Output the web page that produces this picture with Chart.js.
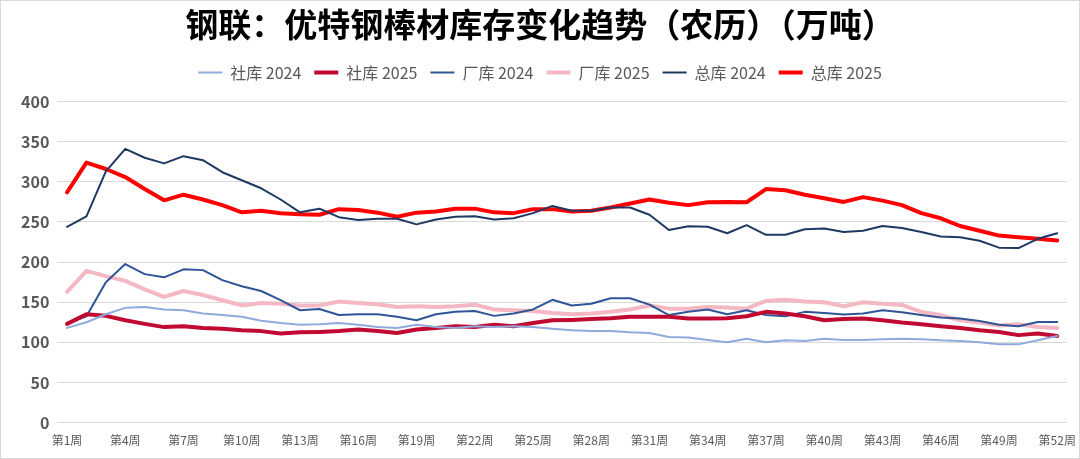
<!DOCTYPE html>
<html>
<head>
<meta charset="utf-8">
<script src="https://cdn.jsdelivr.net/npm/chart.js@4.4.1/dist/chart.umd.min.js"></script>
<style>
  html, body { margin: 0; padding: 0; background: #fff; }
  #wrap { width: 1078px; height: 457px; border: 1px solid #d9d9d9; position: relative; }
</style>
</head>
<body>
<div id="wrap"><canvas id="myChart"></canvas></div>
<script>
// weeks 第1周 .. 第52周
let weeks = [];
for (let i = 1; i <= 52; i++) weeks.push('第' + i + '周');

let sheku2024 = [118,125,135,143,144,141,140,136,134,132,127,124,122,122.5,124,122,119,118,122,119,118,120,119,120,119,117,115,114,114,112.5,111.6,106.6,106,103,100,104.6,100,102.5,101.6,104.6,103,103,104,104.6,104,102.5,101.6,100,97.5,97.5,102.5,108];
let sheku2025 = [123,135,133,127.5,123,119,120,118,117,115,114,111,112.5,113,114,116,114,111.6,116,118,120,119,122,120,124,127.5,128,129,130,132,132,132,129.6,129.6,130,132.5,138,136,132.5,127.5,129,129.6,127.5,124.6,122.5,120,118,115,113,109,111,108];
let changku2024 = [123,132.5,175,197.5,185,181,191,190,177.5,170,164,152.5,140,141.6,134,135,135,132,127.5,135,138,139,133,136,141,153,146,148,155,155,147,134,138,141,135,140,134,132.5,138,136.6,134.6,136,140,137.5,134,131,129.6,126.6,122,120,125.4,125.4];
let changku2025 = [163,189,182.5,176.6,166,156.6,164,159,152.5,146,149,148,146,146,151,149,147.5,144,145,144,145,147,141,140,139,136.6,135,136,138,141,146,142,142,144,143.4,142,151.6,153,151,150,145,150,148,146.6,138,134,127.5,124.6,121,122.5,119,118];
let zongku2024 = [244,257,313,341,330,323,332,327,312,302,292,278,262,266.6,256,252.5,254,254,247,253,256.6,257,253,254.6,261,270,264,264,268,268,259,240,244.6,244,236,246,234,234,241,242,237.5,239,245,242.5,237.5,232,231,226.6,218,217.5,229,236];
let zongku2025 = [287,324,316,306,291,277,284,278,271,262,264,261,259.6,259,266,265,261.6,256.6,261.6,263,266.6,266.6,262,261,266,266,263,264,268,273,278,274,271,274.6,275,274.6,291,289.6,284,279.6,275,281,276.6,271,261,254.6,245,239,233,231,229,227];

let yTicks = [0,50,100,150,200,250,300,350,400];

// extra room under the legend
let legendGap = {
    id: 'legendGap',
    beforeInit(chart) {
        let fit = chart.legend.fit;
        chart.legend.fit = function () {
            fit.bind(chart.legend)();
            this.height += 11;
        };
    }
};

let ctx = document.getElementById('myChart').getContext('2d');

let chart = new Chart(ctx, {
    type: 'line',
    data: {
        labels: weeks,
        datasets: [
            { label: '社库 2024', data: sheku2024, borderColor: '#8FAADC', borderWidth: 2 },
            { label: '社库 2025', data: sheku2025, borderColor: '#C00A32', borderWidth: 4 },
            { label: '厂库 2024', data: changku2024, borderColor: '#2F5597', borderWidth: 2 },
            { label: '厂库 2025', data: changku2025, borderColor: '#F4B8C4', borderWidth: 4 },
            { label: '总库 2024', data: zongku2024, borderColor: '#1F3864', borderWidth: 2 },
            { label: '总库 2025', data: zongku2025, borderColor: '#FF0000', borderWidth: 4 }
        ]
    },
    options: {
        responsive: true,
        maintainAspectRatio: false,
        animation: false,
        elements: {
            point: { radius: 0 },
            line: { tension: 0, borderCapStyle: 'round', borderJoinStyle: 'round' }
        },
        layout: { padding: { left: 12, right: 12, top: 4, bottom: 7 } },
        plugins: {
            title: {
                display: true,
                text: '钢联：优特钢棒材库存变化趋势（农历）（万吨）',
                color: '#000',
                font: { family: '"Noto Sans CJK SC"', size: 33, weight: 'bold' },
                padding: { top: 0, bottom: 7 }
            },
            legend: {
                display: true,
                labels: {
                    usePointStyle: true,
                    pointStyle: 'line',
                    pointStyleWidth: 24,
                    color: '#595959',
                    font: { family: '"Noto Sans CJK SC"', size: 16 },
                    padding: 13
                }
            },
            tooltip: { enabled: false }
        },
        scales: {
            x: {
                offset: true,
                grid: { display: false },
                border: { display: false },
                ticks: {
                    autoSkip: false,
                    maxRotation: 0,
                    color: '#595959',
                    font: { family: '"Noto Sans CJK SC"', size: 12 },
                    callback: function (v, i) { return i % 3 === 0 ? weeks[i] : ''; }
                }
            },
            y: {
                min: yTicks[0],
                max: yTicks[yTicks.length - 1],
                grid: { color: '#D9D9D9', drawTicks: false },
                border: { display: false },
                afterBuildTicks: function (axis) { axis.ticks = yTicks.map(v => ({ value: v })); },
                ticks: {
                    color: '#595959',
                    padding: 8,
                    font: { family: '"Noto Sans CJK SC"', size: 16, weight: 'bold' }
                }
            }
        }
    },
    plugins: [legendGap]
});
</script>
</body>
</html>
